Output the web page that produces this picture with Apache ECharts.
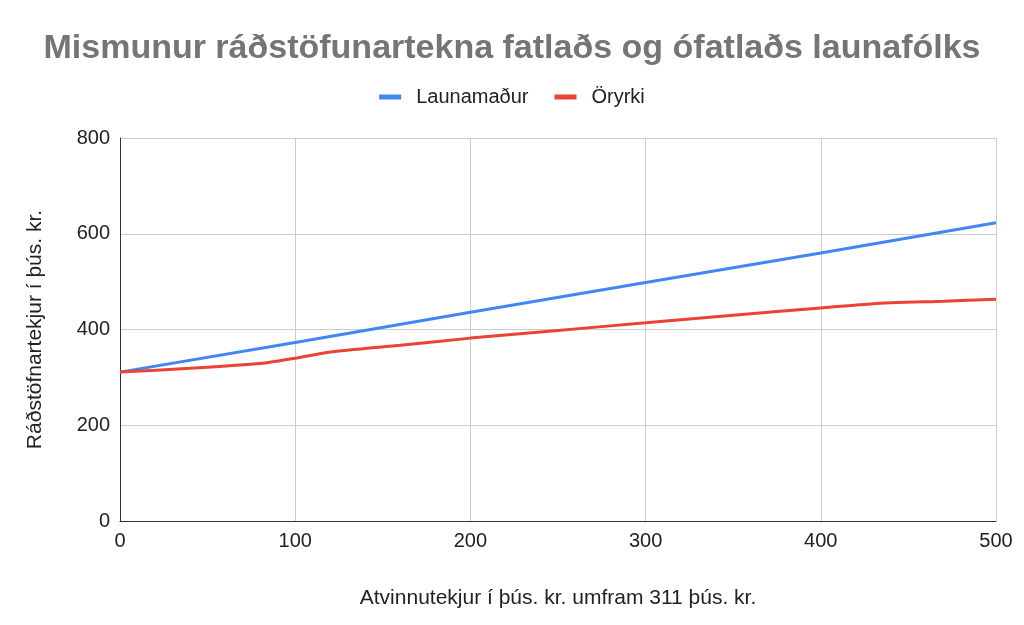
<!DOCTYPE html>
<html><head><meta charset="utf-8">
<script src="https://cdn.jsdelivr.net/npm/echarts@6/dist/echarts.min.js"></script>
<style>html,body{margin:0;padding:0;background:#fff}#c{width:1024px;height:625px}</style>
</head><body><div id="c"></div>
<script>
const launamadurX = [0, 100, 200, 300, 400, 500];
const launamadurY = [311, 373, 436, 498, 560, 623];
const oryrkiX = [0, 40, 80, 100, 120, 160, 200, 250, 300, 350, 400, 430, 470, 500];
const oryrkiY = [311, 319, 329, 340, 353, 367, 382, 398, 414, 430, 445, 454, 459, 463];
const xTicks = [0, 100, 200, 300, 400, 500];
const yTicks = [0, 200, 400, 600, 800];

const chart = echarts.init(document.getElementById('c'));
const font = 'Liberation Sans, Arial, sans-serif';
chart.setOption({
  animation: false,
  textStyle: {fontFamily: font},
  title: {text: 'Mismunur ráðstöfunartekna fatlaðs og ófatlaðs launafólks', left: 'center', top: 27,
    textStyle: {fontFamily: font, fontSize: 34, fontWeight: 'bold', color: '#757575'}},
  legend: {top: 82, left: 'center', itemWidth: 22, itemHeight: 5, itemGap: 26, icon: 'rect',
    textStyle: {fontFamily: font, fontSize: 20, color: '#222', padding: [0, 0, 0, 10]},
    data: ['Launamaður', 'Öryrki']},
  grid: {left: 120, right: 28, top: 138, bottom: 104},
  xAxis: {type: 'value', min: xTicks[0], max: xTicks[xTicks.length-1], interval: 100,
    name: 'Atvinnutekjur í þús. kr. umfram 311 þús. kr.', nameLocation: 'middle', nameGap: 67,
    nameTextStyle: {fontFamily: font, fontSize: 21, color: '#222'},
    axisLine: {show: true, lineStyle: {color: '#333', width: 1}},
    axisTick: {show: false},
    axisLabel: {fontFamily: font, fontSize: 20, color: '#222', margin: 10},
    splitLine: {show: true, lineStyle: {color: '#ccc', width: 1}}},
  yAxis: {type: 'value', min: yTicks[0], max: yTicks[yTicks.length-1], interval: 200,
    name: 'Ráðstöfnartekjur í þús. kr.', nameLocation: 'middle', nameGap: 74,
    nameTextStyle: {fontFamily: font, fontSize: 21, color: '#222'},
    axisLine: {show: true, lineStyle: {color: '#333', width: 1}},
    axisTick: {show: false},
    axisLabel: {fontFamily: font, fontSize: 20, color: '#222', margin: 10},
    splitLine: {show: true, lineStyle: {color: '#ccc', width: 1}}},
  series: [
    {name: 'Launamaður', type: 'line', showSymbol: false, symbol: 'none', color: '#4285F4',
      lineStyle: {width: 3, color: '#4285F4'},
      data: launamadurX.map((x, i) => [x, launamadurY[i]])},
    {name: 'Öryrki', type: 'line', showSymbol: false, symbol: 'none', color: '#EA4335', smooth: 0.2,
      lineStyle: {width: 3, color: '#EA4335'},
      data: oryrkiX.map((x, i) => [x, oryrkiY[i]])}
  ]
});
</script></body></html>
